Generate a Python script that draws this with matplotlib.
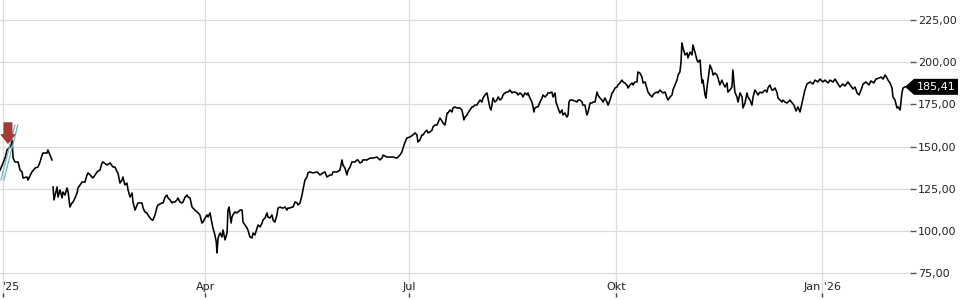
import numpy as np
import pandas as pd
import matplotlib
matplotlib.use("Agg")
import matplotlib.pyplot as plt
from matplotlib.patches import Polygon
from matplotlib.ticker import FixedLocator, FuncFormatter

# price series: days since 2025-01-01 and price (nan = gap)
days = [
    -1.3, 0.9, 1.8, 3.1, 4.0, 4.5, 5.3, 6.7, 7.6, 8.5, 8.9, 10.7, 11.1, 12.9, 14.3, 15.6,
    16.5, 17.4, 17.8, 19.6, 20.0, 20.9, 21.8, 22.0,
    22.3, 22.7, 24.1, 24.5, 25.4, 26.3, 26.7, 27.6, 28.5, 29.0, 29.8, 30.7, 31.2, 32.1,
    33.0, 33.4, 34.3, 35.2, 36.5, 37.4, 37.9, 38.8, 39.6, 40.1, 41.9, 43.2, 44.1, 44.5,
    46.3, 47.7, 49.0, 49.9, 50.8, 51.2, 52.1, 53.0, 53.4, 54.3, 55.2, 55.7, 56.6, 57.5,
    57.9, 58.8, 59.7, 60.1, 61.9, 62.4, 63.2, 64.1, 64.6, 65.5, 66.4, 66.8, 67.7, 68.6,
    69.0, 70.8, 71.3, 72.2, 73.0, 73.5, 74.4, 75.3, 75.7, 76.6, 77.5, 77.9, 78.8, 79.7,
    80.2, 81.1, 82.0, 82.4, 83.3, 84.2, 84.6, 85.5, 86.4, 86.9, 87.7, 88.6, 89.1, 90.0,
    90.9, 91.3, 92.2, 93.1, 93.5, 94.4, 95.0, 95.3, 95.8, 96.7, 97.5, 98.0, 98.9, 99.8,
    100.2, 100.7, 101.6, 102.0, 102.4, 103.3, 104.2, 104.7, 105.6, 106.5, 106.9, 107.8,
    108.7, 109.1, 110.0, 110.9, 111.4, 112.2, 113.6, 114.5, 115.4, 115.8, 116.7, 117.6,
    118.0, 118.9, 119.8, 120.3, 121.1, 122.0, 122.5, 123.4, 124.3, 124.7, 125.6, 126.5,
    126.9, 127.8, 128.7, 129.2, 130.1, 131.0, 131.4, 132.3, 133.2, 133.6, 134.5, 135.4,
    135.8, 136.7, 138.1, 139.9, 141.2, 142.5, 143.4, 144.3, 145.7, 146.5, 147.0, 147.9,
    148.8, 150.1, 151.0, 151.4, 152.3, 153.2, 153.7, 154.6, 155.4, 156.8, 157.7, 158.1,
    159.0, 159.9, 160.3, 162.1, 163.5, 164.8, 166.6, 167.9, 168.8, 169.3, 171.0, 172.4,
    173.7, 175.5, 175.9, 176.8, 177.7, 178.2, 179.1, 179.9, 181.3, 182.6, 183.5, 184.4,
    184.8, 185.7, 186.6, 187.1, 188.0, 188.8, 189.3, 190.2, 191.1, 191.5, 192.4, 193.3,
    193.7, 194.6, 195.5, 196.0, 196.9, 197.8, 198.2, 199.1, 200.0, 200.4, 201.3, 202.2,
    202.7, 203.5, 204.4, 204.9, 205.3, 205.8, 206.7, 207.1, 208.0, 208.9, 209.3, 210.2,
    211.1, 211.6, 212.5, 213.3, 213.8, 214.7, 215.6, 216.0, 216.9, 217.4, 217.8, 218.3,
    219.1, 220.0, 220.5, 221.4, 222.3, 222.7, 223.6, 224.5, 224.9, 225.8, 226.7, 227.2,
    228.0, 228.9, 229.4, 230.3, 231.2, 231.6, 232.5, 233.4, 233.8, 234.7, 235.6, 236.1,
    236.5, 236.9, 237.8, 238.3, 239.2, 240.1, 240.5, 241.4, 242.3, 242.7, 243.6, 244.5,
    245.0, 245.9, 246.3, 246.8, 247.2, 248.1, 249.0, 249.4, 250.3, 251.2, 251.7, 252.1,
    252.6, 253.4, 254.8, 255.7, 256.1, 257.0, 257.9, 258.3, 259.2, 260.1, 260.6, 261.5,
    262.3, 262.8, 263.7, 264.6, 265.0, 265.9, 266.8, 267.3, 268.1, 269.0, 269.5, 270.4,
    271.3, 271.7, 272.6, 273.5, 273.9, 274.8, 275.7, 276.2, 277.0, 277.9, 278.4, 279.3,
    280.2, 280.6, 281.5, 282.4, 282.8, 283.7, 284.6, 285.1, 286.0, 286.8, 287.3, 288.2,
    289.1, 289.5, 290.4, 291.3, 291.7, 292.6, 293.5, 294.0, 294.9, 295.8, 296.2, 297.1,
    298.0, 298.4, 299.3, 300.2, 300.7, 301.5, 302.0, 302.4, 302.9, 303.8, 304.7, 305.1,
    306.0, 306.9, 307.3, 308.2, 309.1, 309.6, 310.5, 310.9, 311.4, 311.8, 312.7, 313.1,
    313.6, 314.0, 314.9, 315.8, 316.3, 317.1, 318.0, 318.5, 319.3, 320.2, 320.7, 321.6,
    322.5, 322.9, 323.8, 324.7, 325.1, 325.6, 326.0, 326.9, 327.4, 328.3, 329.2, 329.6,
    330.5, 331.4, 331.8, 332.7, 333.6, 334.1, 334.9, 335.8, 336.3, 337.2, 338.1, 338.5,
    339.4, 340.3, 340.7, 341.6, 342.5, 343.0, 343.9, 344.7, 345.2, 346.1, 347.0, 347.4,
    348.3, 349.2, 349.7, 350.5, 352.3, 353.2, 354.1, 355.0, 355.9, 357.2, 358.1, 359.5,
    360.8, 361.7, 363.0, 363.9, 365.2, 366.1, 367.5, 368.4, 369.7, 370.6, 371.9, 372.8,
    374.1, 375.0, 376.4, 377.3, 378.6, 379.5, 380.4, 381.3, 382.2, 383.1, 384.4, 385.7,
    386.6, 387.9, 388.8, 390.2, 391.1, 392.0, 392.9, 393.8, 394.2, 395.1, 396.0, 396.4,
    397.3, 398.2, 398.7, 399.6, 400.4, 400.9, 401.8,
]
prices = [
    136.1, 143.2, 148.0, 149.8, 153.9, 143.2, 140.9, 140.9, 136.1, 135.0, 131.4, 132.0, 130.2, 135.0, 137.3, 137.9,
    140.9, 145.0, 146.2, 146.2, 148.0, 145.0, 142.1, np.nan,
    126.1, 118.4, 126.1, 120.1, 124.3, 119.6, 123.1, 121.3, 125.5, 123.1, 114.2, 116.6, 117.2, 119.6,
    122.5, 125.5, 127.3, 129.0, 129.0, 133.2, 134.4, 133.2, 132.0, 131.4, 135.0, 136.1, 140.3, 140.9,
    139.1, 140.3, 137.9, 137.9, 135.0, 134.4, 128.4, 130.2, 132.0, 127.3, 128.4, 124.3, 120.1, 122.5,
    117.2, 112.4, 115.4, 116.6, 116.6, 113.6, 111.3, 110.7, 109.5, 107.7, 106.5, 106.5, 109.5, 114.2,
    115.4, 116.6, 116.6, 120.1, 121.3, 119.6, 118.4, 116.6, 117.2, 117.2, 118.4, 119.6, 117.2, 116.6,
    117.2, 120.1, 121.3, 120.1, 119.6, 114.2, 113.6, 112.4, 111.3, 110.7, 109.5, 104.7, 105.3, 107.7,
    109.5, 108.3, 110.7, 104.7, 101.8, 97.6, 93.5, 87.0, 95.9, 98.8, 96.4, 100.6, 94.7, 98.8,
    112.4, 114.2, 104.7, 108.3, 109.5, 111.3, 110.7, 111.3, 112.4, 112.4, 105.3, 103.6,
    101.8, 100.6, 96.4, 95.9, 98.8, 97.6, 103.6, 102.4, 104.7, 106.5, 107.7, 110.7,
    108.3, 107.7, 109.5, 106.5, 105.3, 109.5, 113.6, 114.2, 113.6, 113.6, 114.2, 112.4,
    113.6, 113.6, 114.2, 114.2, 117.2, 116.6, 115.4, 116.6, 121.3, 124.3, 130.2, 132.0,
    134.4, 135.0, 134.4, 135.0, 133.2, 134.4, 135.0, 132.0, 133.2, 133.2, 135.0, 135.0,
    135.0, 136.1, 142.1, 139.1, 137.3, 133.2, 136.1, 137.9, 140.9, 140.9, 142.1, 142.1,
    140.3, 140.9, 142.1, 142.1, 143.2, 143.2, 143.8, 142.1, 143.2, 145.0, 143.8, 143.8,
    143.8, 143.2, 143.8, 145.0, 146.8, 149.2, 152.7, 155.1, 155.7, 156.9, 158.1, 156.9,
    152.7, 153.9, 156.9, 156.9, 158.7, 159.8, 158.1, 158.7, 159.8, 161.6, 162.8, 162.8,
    164.0, 166.9, 165.2, 164.0, 162.8, 169.9, 169.9, 171.7, 170.5, 172.9, 173.5, 172.9,
    172.9, 172.9, 171.7, 168.7, 165.8, 167.5, 168.7, 169.9, 171.7, 173.5, 173.5, 174.6,
    174.6, 175.8, 177.6, 176.4, 178.8, 180.6, 181.8, 178.8, 172.9, 171.7, 174.6, 178.8,
    176.4, 177.6, 179.4, 177.6, 178.8, 180.6, 181.8, 182.3, 182.3, 183.5, 181.8, 182.3,
    182.3, 181.8, 180.6, 181.8, 180.6, 179.4, 181.8, 180.6, 181.8, 178.8, 176.4, 173.5,
    170.5, 172.9, 173.5, 173.5, 176.4, 178.8, 180.6, 179.4, 180.6, 181.8, 181.8, 182.3,
    179.4, 181.8, 176.4, 174.6, 172.9, 169.9, 171.7, 168.7, 169.9, 167.5, 168.7, 176.4,
    177.6, 177.6, 177.0, 176.4, 177.6, 177.6, 176.4, 174.6, 174.6, 168.7, 170.5, 175.8,
    175.8, 176.4, 176.4, 182.3, 180.6, 178.8, 177.6, 176.4, 178.8, 176.4, 174.6, 177.6,
    181.8, 182.3, 184.7, 185.3, 186.5, 187.7, 189.4, 188.3, 187.7, 186.5, 184.7, 186.5,
    187.7, 186.5, 188.3, 188.3, 194.2, 193.6, 191.2, 187.7, 188.3, 184.7, 182.3, 180.6,
    179.4, 180.6, 181.8, 182.3, 181.8, 183.5, 182.3, 181.8, 182.3, 178.8, 177.6, 179.4,
    180.6, 183.5, 186.5, 189.4, 192.4, 194.2, 200.1, 211.4, 208.4, 204.3, 205.5, 202.5,
    206.0, 204.3, 210.2, 206.0, 201.3, 200.1, 201.3, 193.6, 187.7, 189.4, 180.6, 178.8,
    185.3, 189.4, 198.3, 195.4, 192.4, 193.6, 192.4, 190.6, 186.5, 189.4, 187.7, 185.3,
    187.7, 182.3, 183.5, 185.3, 195.4, 187.7, 182.3, 179.4, 176.4, 181.8, 179.4, 172.9,
    175.8, 181.8, 179.4, 177.6, 174.6, 179.4, 183.5, 181.8, 180.6, 182.3, 181.8, 182.3,
    183.5, 182.3, 184.7, 186.5, 183.5, 183.5, 184.7, 182.3, 178.8, 177.6, 176.4, 177.6,
    176.4, 175.8, 176.4, 177.6, 174.6, 171.1, 173.5, 170.5, 175.8, 183.5, 187.1, 188.3,
    187.1, 189.4, 188.3, 190.0, 188.3, 189.4, 187.7, 189.4, 188.3, 190.0, 187.1, 185.3,
    187.1, 185.9, 188.3, 186.5, 184.1, 185.3, 181.8, 180.6, 183.5, 187.1, 188.3, 186.5,
    188.9, 187.7, 190.0, 190.6, 191.2, 190.0, 192.4, 190.6, 189.4, 187.7, 184.7, 179.4,
    177.6, 172.9, 173.5, 171.7, 181.8, 184.7, 185.41,
]

# trend channel drawn at the start of the chart, and the sell marker
channel_days = [-0.9, 5.3]
channel_low = [130.2, 162.8]
channel_high = [130.2, 162.8]
channel_shift = 1.3
marker_day = 2.2
marker_top, marker_tip = 164.0, 152.1

tick_dates = ["2025-01-01", "2025-04-01", "2025-07-01", "2025-10-01", "2026-01-01"]
tick_labels = ["'25", "Apr", "Jul", "Okt", "Jan '26"]
y_ticks = [75, 100, 125, 150, 175, 200, 225]
last_price = prices[-1]

start = pd.Timestamp("2025-01-01")
dates = start + pd.to_timedelta(days, unit="D")

fig = plt.figure(figsize=(9.6, 3.0), dpi=100)
ax = fig.add_axes([0, 3 / 300, 910 / 960, 297 / 300])

ax.plot(dates, prices, color="black", lw=1.15, zorder=3)

# channel lines
cd = start + pd.to_timedelta(channel_days, unit="D")
cd2 = start + pd.to_timedelta(np.array(channel_days) + channel_shift, unit="D")
ax.plot(cd, channel_low, color="#6fb6bb", lw=0.9, zorder=4)
ax.plot(cd2, channel_high, color="#6fb6bb", lw=0.9, zorder=4)

# red down arrow
md = start + pd.Timedelta(days=marker_day)
ax.annotate("", xy=(md, marker_tip), xytext=(md, marker_top),
            arrowprops=dict(width=5.5, headwidth=9.5, headlength=6, color="#a23a35", shrink=0),
            zorder=5)

ax.set_xlim(start + pd.Timedelta(days=-1.34), start + pd.Timedelta(days=404.0))
ax.set_ylim(60.9, 236.85)

for s in ax.spines.values():
    s.set_visible(False)

ax.grid(True, color="#dcdcdc", lw=0.9)
ax.set_axisbelow(True)

ax.xaxis.set_major_locator(FixedLocator([matplotlib.dates.date2num(pd.Timestamp(d)) for d in tick_dates]))
ax.set_xticklabels(tick_labels)
ax.tick_params(axis="x", direction="in", length=3, width=1, color="#444444",
               pad=-11, labelsize=8, labelcolor="#222222")
ax.get_xticklabels()[0].set_ha("left")

ax.yaxis.tick_right()
ax.yaxis.set_major_locator(FixedLocator(y_ticks))
ax.yaxis.set_major_formatter(FuncFormatter(lambda v, p: f"{v:.2f}".replace(".", ",")))
ax.tick_params(axis="y", direction="out", length=4, width=1, color="#555555",
               pad=1.5, labelsize=8, labelcolor="#222222")

# last price tag
fig.canvas.draw()
yd = ax.transData.transform((0, last_price))[1]
x_tip = 905
tag = Polygon([[x_tip, yd], [x_tip + 9, yd + 8], [958, yd + 8], [958, yd - 8], [x_tip + 9, yd - 8]],
              closed=True, transform=None, facecolor="black", edgecolor="none", zorder=10)
fig.patches.append(tag)
fig.text(917 / 960, yd / 300, f"{last_price:.2f}".replace(".", ","), color="white",
         fontsize=8, va="center", ha="left", zorder=11)

fig.savefig("out.png", dpi=100)
